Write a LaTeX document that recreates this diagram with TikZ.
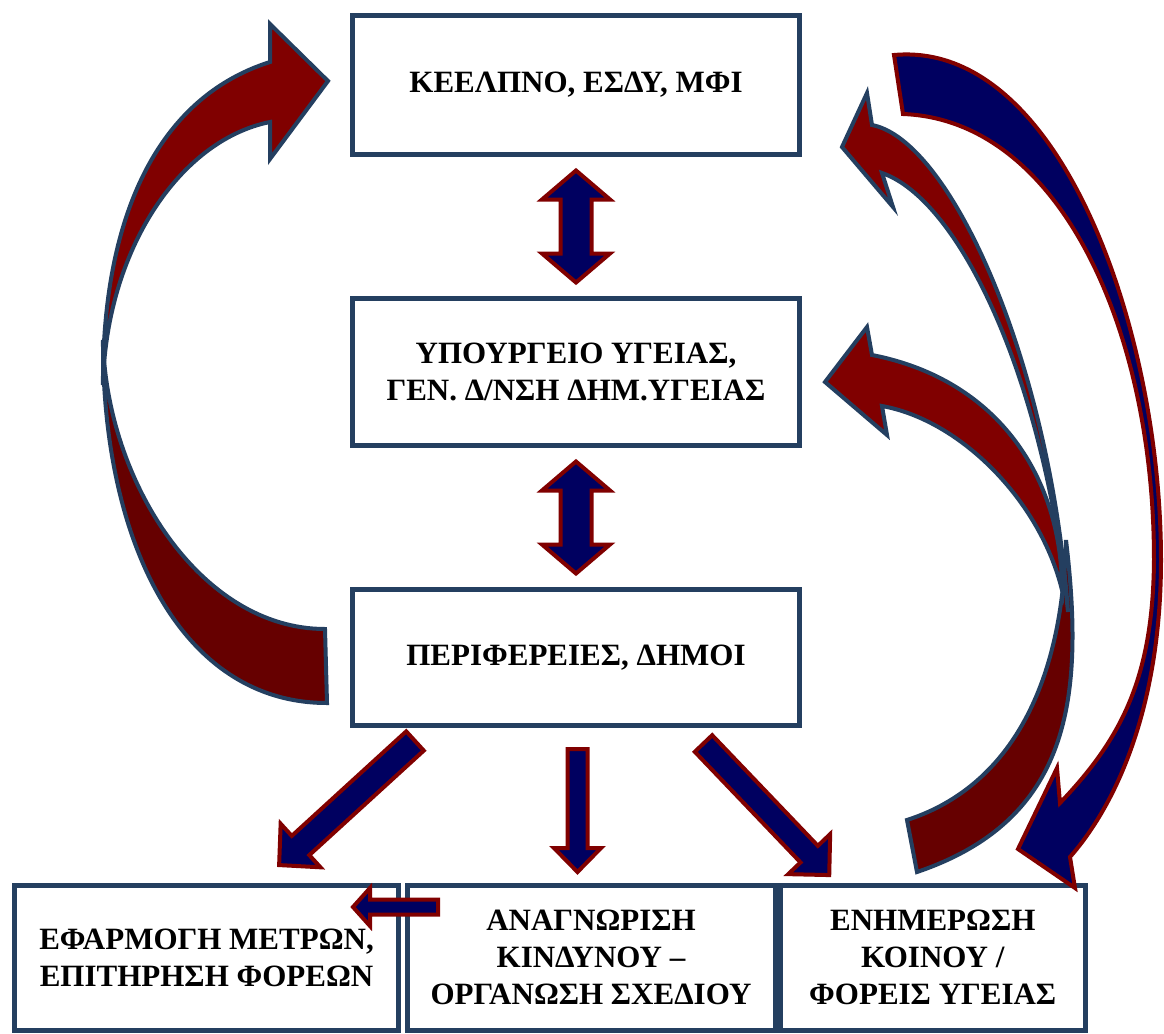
\documentclass[tikz,border=0pt]{standalone}
\usepackage{fontspec}
\setmainfont{Liberation Serif}
\usetikzlibrary{calc}

\definecolor{boxblue}{RGB}{36,63,96}
\definecolor{arrred}{RGB}{128,0,0}
\definecolor{arrdark}{RGB}{102,0,0}
\definecolor{arrnavy}{RGB}{0,0,96}

\tikzset{
  box/.style={draw=boxblue, line width=2.5pt, fill=white, inner sep=0pt,
    align=center, font=\fontsize{15.5}{18.5}\selectfont\bfseries},
  straight/.style={draw=arrred, fill=arrnavy, line width=2pt},
  curvered/.style={fill=arrred, draw=boxblue, line width=2pt},
  curvedark/.style={curvered, fill=arrdark},
  curvenavy/.style={fill=arrnavy, draw=arrred, line width=2pt}
}

% #1 tail, #2 angle, #3 length, #4 half shaft, #5 half head, #6 head length
\newcommand\blockarrow[6]{%
  \filldraw[straight, shift={(#1)}, rotate=#2]
    (0,-#4) -- ({#3-#6},-#4) -- ({#3-#6},-#5) -- (#3,0)
    -- ({#3-#6},#5) -- ({#3-#6},#4) -- (0,#4) -- cycle;}
% #1 centre, #2 angle, #3 length, #4 half shaft, #5 half head, #6 head length
\newcommand\twowayarrow[6]{%
  \filldraw[straight, shift={(#1)}, rotate=#2]
    ({-#3/2},0) -- ({-#3/2+#6},-#5) -- ({-#3/2+#6},-#4) -- ({#3/2-#6},-#4)
    -- ({#3/2-#6},-#5) -- ({#3/2},0) -- ({#3/2-#6},#5) -- ({#3/2-#6},#4)
    -- ({-#3/2+#6},#4) -- ({-#3/2+#6},#5) -- cycle;}

\begin{document}
\begin{tikzpicture}[x=0.5pt, y=-0.5pt]
  \useasboundingbox (0,0) rectangle (1164,1034);

  % the five levels
  \node[box, minimum width=223.5pt, minimum height=69.5pt] (kee) at (576,85)
    {ΚΕΕΛΠΝΟ, ΕΣΔΥ, ΜΦΙ};
  \node[box, minimum width=223.5pt, minimum height=73.5pt] (ypo) at (576,372)
    {ΥΠΟΥΡΓΕΙΟ ΥΓΕΙΑΣ,\\ ΓΕΝ. Δ/ΝΣΗ ΔΗΜ.ΥΓΕΙΑΣ};
  \node[box, minimum width=223.5pt, minimum height=68pt] (per) at (576,657.5)
    {ΠΕΡΙΦΕΡΕΙΕΣ, ΔΗΜΟΙ};

  \node[box, minimum width=192pt, minimum height=72.25pt] (efa) at (206.5,957.75)
    {ΕΦΑΡΜΟΓΗ ΜΕΤΡΩΝ,\\ ΕΠΙΤΗΡΗΣΗ ΦΟΡΕΩΝ};
  \node[box, minimum width=184pt, minimum height=72.25pt] (ana) at (591,957.75)
    {ΑΝΑΓΝΩΡΙΣΗ\\ ΚΙΝΔΥΝΟΥ –\\ ΟΡΓΑΝΩΣΗ ΣΧΕΔΙΟΥ};
  \node[box, minimum width=152.75pt, minimum height=72.25pt] (enh) at (932.75,957.75)
    {ΕΝΗΜΕΡΩΣΗ\\ ΚΟΙΝΟΥ /\\ ΦΟΡΕΙΣ ΥΓΕΙΑΣ};

  % arrow ends
  \coordinate (m1) at ($(kee.south)!0.5!(ypo.north)$);
  \coordinate (m2) at ($(ypo.south)!0.5!(per.north)$);
  \coordinate (t1) at (415,741);
  \coordinate (t2) at (577.5,749);
  \coordinate (t3) at (703.5,743.5);
  \coordinate (t4) at (438,907);

  % up and down between the levels
  \twowayarrow{m1}{90}{112}{15.5}{34}{29}
  \twowayarrow{m2}{90}{112}{15.5}{34}{29}

  \blockarrow{t1}{222.4}{184}{13}{29.5}{29}
  \blockarrow{t2}{-90}{123}{10}{23.5}{24}
  \blockarrow{t3}{-46.3}{182}{12}{29}{29}
  \blockarrow{t4}{180}{85}{7.5}{19}{17}

  % left curved arrow
  \filldraw[curvedark] (327,703) -- (325,629)
    .. controls (200,629) and (106,480) .. (103,340)
    .. controls (102,540) and (180,703) .. (327,703) -- cycle;
  \filldraw[curvered] (270,62) -- (270,24) -- (328,81) -- (270,159) -- (270,122)
    .. controls (180,140) and (106,250) .. (103,385)
    .. controls (102,230) and (150,100) .. (270,62) -- cycle;

  % right curved arrows
  \filldraw[curvedark] (907,820)
    .. controls (1000,790) and (1062,700) .. (1066,540)
    .. controls (1085,700) and (1070,820) .. (917,872) -- cycle;
  \filldraw[curvered] (872,125) -- (867,93) -- (842,147) -- (893,207) -- (882,173)
    .. controls (960,200) and (1045,380) .. (1068,612)
    .. controls (1050,360) and (950,140) .. (872,125) -- cycle;
  \filldraw[curvered] (872,355) -- (867,327) -- (825,382) -- (887,435) -- (882,406)
    .. controls (960,420) and (1040,500) .. (1062,590)
    .. controls (1062,480) and (1000,380) .. (872,355) -- cycle;
  \filldraw[curvenavy] (894,55)
    .. controls (1060,40) and (1161,330) .. (1161,560)
    .. controls (1161,700) and (1120,800) .. (1070,857)
    -- (1075,888) -- (1018,849) -- (1057,768) -- (1060,803)
    .. controls (1120,740) and (1153,680) .. (1154,560)
    .. controls (1154,330) and (1060,120) .. (903,114) -- cycle;
\end{tikzpicture}
\end{document}
